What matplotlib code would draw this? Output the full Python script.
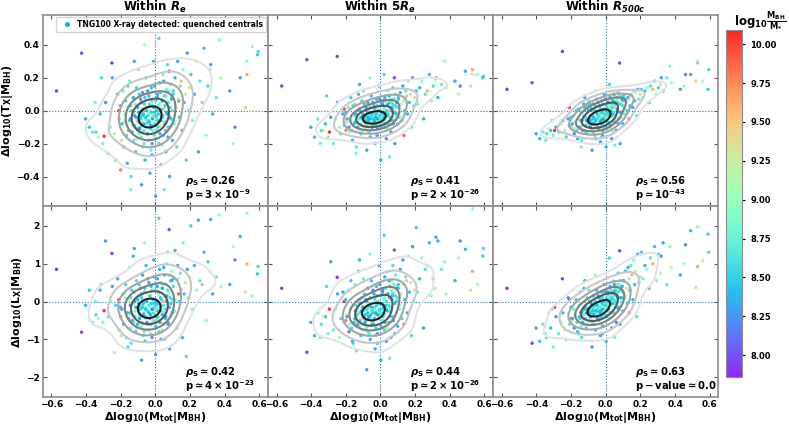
import numpy as np
import matplotlib
matplotlib.use("Agg")
import matplotlib.pyplot as plt
from matplotlib.lines import Line2D

plt.rcParams.update({
    "font.family": "DejaVu Sans", "font.weight": "bold", "axes.labelweight": "bold",
    "axes.titleweight": "bold", "mathtext.fontset": "dejavusans", "mathtext.default": "bf",
})

# shared x: residual of M_tot at fixed M_BH, and colour: log10 M_BH/M_*
dm_tot = [
    -0.57, -0.425, -0.25, 0.08, -0.295, -0.21, 0.135, -0.20, 0.594, 0.53,
    0.56, 0.49, 0.43, 0.37, 0.59, 0.52, 0.32, 0.53, 0.46, 0.45,
    -0.342, -0.318, -0.303, -0.287, -0.272, -0.259, -0.248, -0.236, -0.228, -0.217, -0.209, -0.196,
    -0.193, -0.186, -0.182, -0.175, -0.171, -0.166, -0.162, -0.157, -0.153, -0.148,
    -0.144, -0.139, -0.136, -0.131, -0.127, -0.124, -0.119, -0.116, -0.113, -0.108,
    -0.105, -0.102, -0.098, -0.095, -0.092, -0.201, -0.158, -0.142, -0.121, -0.179,
    -0.089, -0.086, -0.084, -0.081, -0.078, -0.076, -0.073, -0.071, -0.068, -0.065,
    -0.062, -0.059, -0.056, -0.053, -0.051, -0.048, -0.045, -0.043, -0.040, -0.037,
    -0.034, -0.031, -0.029, -0.026, -0.023, -0.021, -0.018, -0.015, -0.012, -0.009,
    -0.007, -0.004, -0.001, 0.002, 0.004, -0.061, -0.079, -0.019,
    0.007, 0.010, 0.013, 0.016, 0.019, 0.022, 0.025, 0.028, 0.031, 0.034,
    0.037, 0.040, 0.044, 0.047, 0.050, 0.054, 0.057, 0.061, 0.064, 0.068,
    0.071, 0.075, 0.079, 0.083, 0.087, 0.091, 0.095, 0.099, 0.021, 0.052,
    0.104, 0.109, 0.114, 0.119, 0.124, 0.129, 0.134, 0.139, 0.145, 0.150,
    0.156, 0.161, 0.167, 0.173, 0.179, 0.185, 0.191, 0.198,
    0.206, 0.215, 0.226, 0.238, 0.249, 0.258, 0.271, 0.282, 0.293, 0.304, 0.316, 0.331, 0.352, 0.379,
    -0.381, -0.362, -0.347, -0.329, -0.402, -0.311,
    -0.148, -0.141, -0.133, -0.126, -0.122, -0.117, -0.111, -0.106, -0.101, -0.097,
    -0.093, -0.090, -0.087, -0.083, -0.080, -0.077, -0.074, -0.070, -0.067, -0.064,
    -0.060, -0.057, -0.054, -0.050, -0.047, -0.044, -0.041, -0.038, -0.035, -0.032,
    -0.028, -0.025, -0.022, -0.019, -0.016, -0.013, -0.010, -0.007, -0.004, -0.001,
    0.003, 0.006, 0.009, 0.012, 0.015, 0.018, 0.023, 0.027, 0.030, 0.033,
    0.036, 0.039, 0.043, 0.046, 0.049, 0.053, 0.056, 0.059, 0.063, 0.066,
    0.070, 0.074, 0.078, 0.082, 0.086, 0.090, 0.094, 0.098, 0.103, 0.108,
]
log_mbh_ms = [
    7.90, 7.95, 7.92, 7.98, 10.05, 10.00, 9.90, 9.80, 8.55, 9.65,
    9.05, 8.35, 8.30, 8.95, 8.50, 9.40, 8.30, 8.95, 8.20, 9.05,
    8.60, 8.45, 8.80, 8.25, 8.70, 8.90, 8.35, 9.10, 8.55, 8.30, 8.65, 9.30,
    8.40, 8.75, 8.20, 8.95, 8.50, 8.60, 8.35, 9.05, 8.45, 8.80,
    8.25, 8.65, 8.55, 9.15, 8.40, 8.70, 8.30, 8.85, 8.50, 8.60,
    9.45, 8.40, 8.75, 8.20, 8.90, 8.45, 8.55, 8.80, 8.35, 9.00,
    8.45, 8.60, 8.30, 8.80, 8.50, 9.10, 8.25, 8.65, 8.40, 8.70,
    8.55, 8.35, 8.90, 8.45, 8.60, 8.20, 9.35, 8.50, 8.75, 8.40,
    8.65, 8.30, 8.85, 8.55, 8.45, 9.00, 8.25, 8.70, 8.60, 8.35,
    8.80, 8.50, 9.20, 8.40, 8.65, 8.95, 8.30, 8.20,
    8.55, 8.75, 8.30, 8.45, 8.90, 8.60, 8.40, 9.05, 8.50, 8.25,
    8.70, 8.35, 8.85, 8.55, 9.50, 8.45, 8.65, 8.20, 8.80, 8.40,
    8.60, 8.50, 9.00, 8.30, 8.70, 8.45, 8.90, 8.35, 8.55, 8.75,
    8.55, 8.80, 8.40, 9.25, 8.60, 8.30, 8.95, 8.50, 8.70, 9.55,
    8.35, 8.85, 8.45, 9.10, 8.60, 8.25, 8.75, 9.40,
    8.50, 8.80, 8.40, 9.00, 8.30, 8.65, 9.60, 8.45, 8.90, 8.55, 9.15, 8.35, 8.70, 9.05,
    8.45, 8.70, 8.80, 9.20, 8.35, 8.60,
    8.50, 8.62, 8.38, 8.78, 8.48, 8.57, 8.33, 8.88, 8.44, 8.69,
    8.52, 8.28, 8.73, 8.58, 8.41, 8.83, 8.47, 8.63, 8.36, 8.71,
    8.53, 8.45, 8.92, 8.39, 8.66, 8.26, 8.55, 8.79, 8.43, 8.61,
    8.34, 8.74, 8.49, 8.58, 8.31, 8.86, 8.46, 8.64, 8.37, 8.70,
    8.52, 8.42, 8.77, 8.29, 8.59, 8.48, 8.81, 8.35, 8.67, 8.44,
    8.56, 8.94, 8.40, 8.62, 8.32, 8.72, 8.51, 8.47, 8.84, 8.38,
    8.60, 8.26, 8.75, 8.45, 8.57, 8.89, 8.36, 8.65, 8.49, 8.79,
]

# T_X residuals in the three apertures
dtx_re = [
    0.12, 0.35, 0.29, 0.24, -0.155, 0.00, 0.06, -0.36, 0.36, 0.22,
    0.39, 0.20, 0.12, 0.43, 0.34, 0.02, 0.28, 0.30, -0.10, -0.20,
    -0.13, -0.02, -0.20, 0.05, -0.26, -0.10, 0.20, -0.14, -0.30, 0.10, -0.05, -0.18,
    -0.08, 0.12, -0.22, -0.02, 0.06, -0.15, -0.32, 0.02, -0.12, 0.18,
    -0.05, -0.40, 0.00, -0.09, 0.08, -0.18, -0.03, 0.04, -0.25, 0.14,
    -0.06, -0.11, 0.25, -0.01, -0.14, 0.03, 0.15, -0.48, 0.30, -0.07,
    -0.04, -0.10, 0.07, -0.16, 0.00, -0.07, 0.11, -0.22, -0.02, -0.12,
    0.04, -0.30, -0.05, 0.20, -0.08, -0.14, 0.02, -0.03, -0.18, 0.09,
    -0.06, -0.38, 0.00, -0.11, 0.14, -0.04, -0.20, 0.03, -0.09, 0.30,
    -0.15, -0.01, -0.07, -0.52, 0.06, 0.40, -0.45, -0.27,
    -0.03, -0.12, 0.10, -0.06, 0.03, -0.20, 0.17, -0.09, 0.00, -0.33,
    0.06, -0.04, 0.22, -0.15, 0.01, 0.09, -0.07, -0.25, 0.13, -0.02,
    0.28, -0.10, 0.05, -0.40, 0.16, -0.05, 0.08, -0.18, 0.44, -0.48,
    0.12, -0.08, 0.20, 0.02, -0.22, 0.30, 0.07, -0.04, 0.15, 0.18,
    -0.12, 0.25, 0.05, 0.10, -0.30, 0.35, 0.00, 0.14,
    0.22, -0.06, 0.10, 0.30, -0.25, 0.18, 0.05, 0.38, -0.15, 0.15, 0.25, -0.02, 0.08, 0.20,
    -0.10, -0.13, 0.05, -0.16, -0.05, 0.20,
    -0.06, 0.03, -0.13, -0.01, 0.07, -0.09, -0.04, -0.17, 0.02, -0.07,
    0.10, -0.11, -0.02, -0.05, 0.05, -0.13, -0.03, 0.01, -0.08, -0.20,
    0.08, -0.04, -0.10, 0.00, -0.06, 0.12, -0.14, -0.02, -0.07, 0.04,
    -0.09, -0.24, -0.01, 0.06, -0.05, -0.12, 0.02, -0.03, 0.15, -0.08,
    -0.17, 0.00, -0.05, 0.08, -0.10, -0.02, 0.04, -0.14, 0.11, -0.06,
    0.01, -0.21, 0.06, -0.03, 0.18, -0.08, 0.03, -0.12, 0.09, -0.01,
    0.05, -0.16, 0.12, -0.04, 0.02, -0.09, 0.07, 0.00, 0.10, -0.06,
]
dtx_5re = [
    0.15, 0.31, 0.33, 0.20, -0.13, 0.01, -0.15, -0.12, 0.21, 0.25,
    0.22, 0.24, 0.18, 0.30, 0.20, 0.15, 0.20, 0.22, 0.15, 0.10,
    -0.12, -0.08, -0.16, -0.04, -0.20, -0.05, 0.05, -0.10, -0.14, -0.02, -0.09, -0.07,
    -0.05, 0.02, -0.10, -0.06, 0.08, -0.12, -0.18, -0.03, -0.08, 0.04,
    -0.02, -0.22, -0.07, -0.04, 0.10, -0.11, 0.00, -0.05, -0.14, 0.06,
    -0.09, -0.03, 0.12, -0.06, -0.10, -0.01, 0.03, -0.26, 0.16, -0.13,
    -0.04, -0.07, 0.02, -0.09, -0.02, -0.05, 0.05, -0.12, -0.06, -0.03,
    -0.01, -0.16, -0.08, 0.09, -0.04, -0.10, -0.03, -0.05, -0.07, 0.03,
    -0.02, -0.20, -0.06, -0.09, 0.07, -0.04, -0.11, 0.00, -0.05, 0.15,
    -0.08, -0.03, -0.06, -0.30, 0.04, 0.20, -0.24, -0.15,
    -0.02, -0.07, 0.06, -0.04, 0.01, -0.10, 0.08, -0.05, -0.01, -0.17,
    0.03, -0.03, 0.12, -0.08, 0.00, 0.05, -0.04, -0.13, 0.07, 0.02,
    0.14, -0.06, 0.03, -0.20, 0.10, -0.02, 0.05, -0.08, 0.22, -0.28,
    0.08, -0.04, 0.11, 0.04, -0.06, 0.15, 0.06, 0.00, 0.12, 0.09,
    -0.02, 0.18, 0.05, 0.10, -0.10, 0.20, 0.03, 0.08,
    0.12, 0.04, 0.14, 0.18, -0.05, 0.10, 0.12, 0.22, 0.06, 0.15, 0.19, 0.08, 0.16, 0.14,
    -0.16, -0.05, -0.20, -0.12, -0.10, 0.09,
    -0.07, -0.03, -0.10, -0.05, 0.01, -0.08, -0.04, -0.12, -0.02, -0.06,
    0.04, -0.07, -0.03, -0.06, 0.00, -0.09, -0.04, -0.01, -0.05, -0.13,
    0.02, -0.05, -0.07, -0.02, -0.04, 0.05, -0.09, -0.03, -0.06, 0.01,
    -0.04, -0.14, -0.02, 0.03, -0.05, -0.07, 0.00, -0.04, 0.07, -0.05,
    -0.10, -0.01, -0.03, 0.04, -0.06, -0.02, 0.02, -0.08, 0.06, -0.03,
    0.00, -0.11, 0.04, -0.02, 0.09, -0.04, 0.02, -0.06, 0.05, 0.00,
    0.04, -0.08, 0.07, -0.01, 0.03, -0.04, 0.05, 0.02, 0.07, -0.01,
]
dtx_r500 = [
    0.13, 0.17, 0.36, 0.29, -0.12, 0.02, -0.05, -0.10, 0.25, 0.29,
    0.18, 0.22, 0.13, 0.27, 0.13, 0.18, 0.20, 0.30, 0.22, 0.15,
    -0.14, -0.12, -0.15, -0.10, -0.13, -0.08, -0.06, -0.12, -0.16, -0.05, -0.09, -0.10,
    -0.08, -0.03, -0.14, -0.07, 0.00, -0.12, -0.17, -0.05, -0.10, 0.01,
    -0.06, -0.18, -0.06, -0.09, 0.04, -0.12, -0.04, -0.05, -0.13, 0.03,
    -0.08, -0.06, 0.06, -0.05, -0.10, -0.04, 0.01, -0.22, 0.08, -0.11,
    -0.06, -0.09, 0.01, -0.12, -0.03, -0.05, 0.04, -0.14, -0.04, -0.07,
    0.00, -0.17, -0.05, 0.07, -0.05, -0.10, -0.01, -0.03, -0.11, 0.03,
    -0.04, -0.19, -0.02, -0.08, 0.06, -0.03, -0.12, 0.00, -0.05, 0.10,
    -0.09, -0.02, -0.04, -0.22, 0.03, 0.12, -0.24, -0.15,
    -0.02, -0.07, 0.05, -0.03, 0.02, -0.10, 0.08, -0.04, 0.00, -0.17,
    0.04, -0.02, 0.10, -0.07, 0.02, 0.05, -0.03, -0.12, 0.07, 0.00,
    0.11, -0.05, 0.04, -0.20, 0.09, -0.01, 0.06, -0.08, 0.16, -0.21,
    0.06, 0.01, 0.07, 0.05, 0.00, 0.08, 0.07, 0.03, 0.10, 0.09,
    0.02, 0.12, 0.06, 0.11, -0.03, 0.13, 0.07, 0.10,
    0.13, 0.08, 0.12, 0.14, 0.05, 0.15, 0.13, 0.18, 0.10, 0.14, 0.16, 0.12, 0.20, 0.17,
    -0.17, -0.13, -0.18, -0.11, -0.14, -0.06,
    -0.10, -0.01, -0.12, -0.03, 0.02, -0.09, -0.06, -0.14, 0.00, -0.08,
    0.04, -0.10, -0.03, -0.07, 0.01, -0.11, -0.05, 0.00, -0.08, -0.15,
    0.03, -0.06, -0.09, -0.02, -0.05, 0.05, -0.11, -0.02, -0.07, 0.02,
    -0.06, -0.16, -0.01, 0.04, -0.05, -0.10, 0.01, -0.03, 0.07, -0.06,
    -0.11, 0.01, -0.03, 0.05, -0.07, -0.01, 0.04, -0.09, 0.07, -0.03,
    0.02, -0.12, 0.06, -0.01, 0.10, -0.05, 0.04, -0.07, 0.08, 0.01,
    0.05, -0.08, 0.09, -0.01, 0.04, -0.04, 0.07, 0.03, 0.09, -0.02,
]

# L_X residuals in the three apertures
dlx_re = [
    0.85, -0.81, 1.27, 1.90, -0.24, 0.05, 0.20, -0.40, 0.93, 0.99,
    0.15, 1.72, 0.45, 2.28, 0.73, 0.25, 2.17, 2.33, 1.10, 1.45,
    -0.35, 0.30, -0.55, 1.60, -0.40, 0.00, 0.40, -1.35, -0.10, 0.60, -0.75, -0.90,
    -0.20, 0.20, -0.60, 0.10, 0.45, -0.95, -0.30, 0.05, -0.45, 0.90,
    -0.10, -1.10, 0.30, -0.35, 1.20, -0.55, 0.00, -0.25, -0.80, 0.55,
    -0.15, -0.60, 0.15, -0.05, -0.40, -0.15, -1.20, -0.70, 1.40, 0.20,
    -0.20, -0.35, 0.35, -0.65, 0.10, -0.10, 0.70, -0.90, -0.05, -0.30,
    0.25, -1.05, -0.15, 0.95, -0.40, -0.55, 0.00, -0.25, -0.75, 0.50,
    -0.10, -0.45, 0.15, -0.60, 0.40, -0.20, -0.95, 0.05, -0.30, 1.10,
    -0.50, -0.05, -0.25, -1.40, 0.30, 1.55, -1.55, -0.20,
    -0.10, -0.45, 0.60, -0.25, 0.20, -0.80, 0.85, -0.15, 0.10, -1.00,
    0.35, -0.35, 0.45, -0.60, 0.00, 0.70, -0.20, -0.40, 1.00, 0.15,
    1.30, -0.55, 0.25, -1.25, 0.55, -0.05, 0.80, -0.30, 2.20, -1.00,
    0.40, -0.25, 1.35, 0.05, -0.70, 0.95, 0.60, 0.00, 0.75, 0.30,
    -0.95, 1.55, 0.20, 0.50, -1.45, 0.85, 0.10, 0.65,
    2.00, -0.20, 0.95, 0.30, 2.15, 0.55, 0.45, 1.30, -0.50, 1.05, 0.80, 0.20, 0.65, 0.40,
    0.30, -0.55, 0.00, -0.45, -0.10, 0.45,
    -0.30, 0.10, -0.50, -0.05, 0.25, -0.40, -0.15, -0.70, 0.05, -0.25,
    0.45, -0.45, -0.10, -0.20, 0.20, -0.55, -0.15, 0.00, -0.35, -0.80,
    0.35, -0.20, -0.45, 0.00, -0.25, 0.60, -0.60, -0.10, -0.30, 0.15,
    -0.35, -0.85, -0.05, 0.30, -0.20, -0.50, 0.05, -0.15, 0.65, -0.35,
    -0.65, 0.00, -0.20, 0.40, -0.40, -0.05, 0.25, -0.55, 0.50, -0.25,
    0.05, -0.75, 0.35, -0.10, 0.90, -0.30, 0.15, -0.45, 0.45, 0.00,
    0.30, -0.60, 0.70, -0.15, 0.10, -0.40, 0.55, 0.05, 0.60, -0.25,
]
dlx_5re = [
    0.35, -1.34, 0.64, 1.36, -0.20, 0.00, -0.60, -0.50, 1.40, 0.80,
    0.45, 1.38, 0.55, 1.05, 1.20, 0.30, 1.70, 2.45, 1.60, 1.15,
    -0.60, -0.40, -0.85, 1.05, -0.75, -0.20, 0.20, -0.95, -0.45, 0.25, -0.55, -0.35,
    -0.40, 0.30, -0.80, -0.20, 0.55, -0.70, -1.05, -0.10, -0.55, 0.45,
    -0.25, -1.30, -0.35, -0.20, 0.80, -0.65, -0.05, -0.30, -0.90, 0.10,
    -0.45, -0.15, 0.60, -0.40, -0.25, 0.05, -1.10, -0.50, 1.10, -0.60,
    -0.35, -0.50, 0.05, -0.70, -0.20, -0.30, 0.35, -0.80, -0.45, -0.15,
    -0.10, -1.00, -0.40, 0.55, -0.25, -0.60, -0.20, -0.30, -0.55, 0.20,
    -0.15, -1.25, -0.35, -0.70, 0.40, -0.25, -0.85, 0.00, -0.45, 0.95,
    -0.35, -0.20, -0.40, -1.55, 0.15, 1.25, -1.80, -1.10,
    -0.20, -0.50, 0.30, -0.30, 0.05, -0.75, 0.65, -0.35, -0.10, -1.05,
    0.20, -0.25, 0.80, -0.55, 0.10, 0.40, -0.15, -0.95, 0.55, 0.15,
    0.95, -0.40, 0.25, -0.85, 0.70, 0.00, 0.40, -0.65, 1.75, -1.50,
    0.35, -0.20, 0.85, 0.20, -0.45, 1.10, 0.45, 0.05, 0.65, 0.55,
    -0.30, 1.20, 0.25, 0.50, -0.90, 1.45, 0.00, 0.30,
    1.95, 0.25, 0.60, 1.15, -0.70, 0.85, 0.95, 1.55, 0.15, 0.60, 0.35, 1.60, 0.85, 0.20,
    -0.90, -0.30, -0.95, -0.40, -0.55, 0.40,
    -0.45, -0.10, -0.60, -0.30, 0.05, -0.50, -0.25, -0.75, -0.15, -0.40,
    0.20, -0.55, -0.20, -0.35, 0.00, -0.65, -0.30, -0.10, -0.40, -0.85,
    0.10, -0.35, -0.50, -0.15, -0.25, 0.30, -0.60, -0.20, -0.45, 0.05,
    -0.30, -0.90, -0.10, 0.15, -0.35, -0.45, -0.05, -0.25, 0.45, -0.30,
    -0.65, -0.05, -0.20, 0.25, -0.40, -0.15, 0.10, -0.55, 0.35, -0.20,
    0.00, -0.70, 0.20, -0.10, 0.55, -0.25, 0.10, -0.40, 0.30, 0.05,
    0.20, -0.50, 0.45, -0.05, 0.15, -0.30, 0.35, 0.10, 0.45, -0.10,
]
dlx_r500 = [
    0.35, -1.10, 0.60, 1.34, -0.15, 0.06, -0.30, -0.45, 1.30, 0.92,
    1.08, 1.87, 0.70, 1.45, 1.78, 0.37, 1.20, 1.97, 1.50, 1.00,
    -0.95, -0.70, -1.20, -0.40, -0.85, -0.55, -0.30, -0.75, -1.00, 0.10, -0.60, -0.50,
    -0.45, -0.20, -0.70, -0.35, 0.05, -0.55, -0.80, -0.10, -0.40, 0.25,
    -0.30, -0.95, -0.25, -0.45, 0.35, -0.60, -0.15, -0.20, -0.70, 0.10,
    -0.35, -0.25, 0.30, -0.30, -0.50, -0.15, -0.85, -0.65, 0.55, -0.40,
    -0.30, -0.40, -0.05, -0.55, -0.20, -0.15, 0.15, -0.60, -0.35, -0.25,
    -0.10, -0.75, -0.30, 0.30, -0.20, -0.45, -0.05, -0.25, -0.50, 0.10,
    -0.15, -0.90, -0.20, -0.40, 0.25, -0.10, -0.65, 0.00, -0.30, 0.45,
    -0.35, -0.10, -0.20, -1.05, 0.10, 0.70, -1.20, -0.85,
    -0.05, -0.25, 0.25, -0.15, 0.10, -0.45, 0.40, -0.10, 0.05, -0.70,
    0.20, -0.05, 0.55, -0.30, 0.15, 0.30, 0.00, -0.55, 0.45, 0.10,
    0.75, -0.15, 0.30, -0.60, 0.55, 0.10, 0.40, -0.25, 1.15, -0.95,
    0.55, 0.10, 0.80, 0.35, -0.05, 0.90, 0.60, 0.30, 0.95, 0.70,
    0.05, 1.10, 0.45, 0.80, -0.40, 1.25, 0.50, 0.65,
    1.30, 0.60, 0.95, 0.85, 0.35, 1.15, 1.00, 1.45, 0.55, 1.25, 0.75, 1.55, 0.45, 0.90,
    -1.05, -0.60, -0.85, -0.30, -0.70, -0.20,
    -0.45, -0.30, -0.55, -0.35, -0.20, -0.45, -0.30, -0.60, -0.20, -0.35,
    0.00, -0.40, -0.20, -0.30, -0.10, -0.50, -0.25, -0.15, -0.35, -0.60,
    0.00, -0.25, -0.35, -0.10, -0.20, 0.15, -0.45, -0.15, -0.30, 0.05,
    -0.25, -0.60, -0.05, 0.10, -0.20, -0.35, 0.00, -0.10, 0.25, -0.20,
    -0.40, 0.05, -0.05, 0.20, -0.20, 0.00, 0.15, -0.30, 0.30, -0.05,
    0.10, -0.40, 0.25, 0.05, 0.45, -0.05, 0.20, -0.15, 0.35, 0.15,
    0.25, -0.20, 0.45, 0.10, 0.30, 0.00, 0.40, 0.25, 0.55, 0.15,
]

titles = [r"Within $\mathbfit{R}_\mathbfit{e}$", r"Within 5$\mathbfit{R}_\mathbfit{e}$",
          r"Within $\mathbfit{R}_\mathbfit{500c}$"]
rho_s = ["0.26", "0.41", "0.56", "0.42", "0.44", "0.63"]
p_text = [r"$p \simeq 3 \times 10^{-9}$", r"$p \simeq 2 \times 10^{-26}$", r"$p \simeq 10^{-43}$",
          r"$p \simeq 4 \times 10^{-23}$", r"$p \simeq 2 \times 10^{-26}$", r"$p - value \simeq 0.0$"]
cbar_ticks = [8.00, 8.25, 8.50, 8.75, 9.00, 9.25, 9.50, 9.75, 10.00]

CMIN, CMAX = 7.86, 10.09
CONTOUR_COLS = ["#e3e3e3", "#c8c8c8", "#a5a5a5", "#808080", "#585858", "#202020"]
MASS_FRAC = [0.80, 0.66, 0.52, 0.38, 0.24, 0.10]


def kde_contours(ax, x, y, xlim, ylim):
    # gaussian kde on a grid, levels chosen to enclose given mass fractions
    n = len(x)
    f = 0.9 * n ** (-1 / 6)
    hx, hy = f * np.std(x), f * np.std(y)
    gx = np.linspace(xlim[0], xlim[1], 160)
    gy = np.linspace(ylim[0], ylim[1], 160)
    X, Y = np.meshgrid(gx, gy)
    Z = np.exp(-0.5 * (((X[..., None] - x) / hx) ** 2 + ((Y[..., None] - y) / hy) ** 2)).sum(-1)
    zs = np.sort(Z.ravel())[::-1]
    cum = np.cumsum(zs) / zs.sum()
    levels = [zs[np.searchsorted(cum, m)] for m in MASS_FRAC]
    ax.contour(X, Y, Z, levels=levels, colors=CONTOUR_COLS, linewidths=1.5, zorder=3)


x = np.array(dm_tot)
c = np.array(log_mbh_ms)
ys = [dtx_re, dtx_5re, dtx_r500, dlx_re, dlx_5re, dlx_r500]
for y in ys:
    assert len(y) == len(x), (len(y), len(x))
assert len(c) == len(x)

fig = plt.figure(figsize=(7.89, 4.25), dpi=100)
lefts = [0.054, 0.3395, 0.625]
bottoms = [0.515, 0.066]
W, H = 0.2855, 0.449
XLIM = (-0.65, 0.65)
YLIMS = [(-0.58, 0.58), (-2.52, 2.52)]

sc = None
for k, y in enumerate(ys):
    row, col = divmod(k, 3)
    ax = fig.add_axes([lefts[col], bottoms[row], W, H])
    y = np.array(y)
    sc = ax.scatter(x, y, c=c, cmap="rainbow", vmin=CMIN, vmax=CMAX, s=6,
                    edgecolors="none", alpha=0.85, zorder=2)
    kde_contours(ax, x, y, XLIM, YLIMS[row])
    ax.axhline(0, color="tab:blue", ls=":", lw=0.8, zorder=1)
    ax.axvline(0, color="tab:blue", ls=":", lw=0.8, zorder=1)
    ax.set_xlim(XLIM)
    ax.set_ylim(YLIMS[row])
    ax.set_xticks([-0.6, -0.4, -0.2, 0.0, 0.2, 0.4, 0.6])
    if row == 0:
        ax.set_yticks([-0.4, -0.2, 0.0, 0.2, 0.4])
        ax.set_title(titles[col], fontsize=8.5, pad=2)
    else:
        ax.set_yticks([-2, -1, 0, 1, 2])
        ax.set_xlabel(r"$\Delta log_{10}(M_{tot}|M_{BH})$", fontsize=8, labelpad=1)
    ax.tick_params(direction="in", top=True, right=True, length=3, width=0.8,
                   labelsize=6.5, color="#555555", pad=2,
                   labelbottom=(row == 1), labelleft=(col == 0))
    for sp in ax.spines.values():
        sp.set_color("#8c8c8c")
        sp.set_linewidth(1.2)
    ax.text(0.63, 0.13, r"$\mathbfit{\rho}_\mathbf{S} \simeq " + rho_s[k] + "$",
            transform=ax.transAxes, fontsize=7.2, va="center", ha="left")
    ax.text(0.63, 0.057, p_text[k], transform=ax.transAxes, fontsize=7.2,
            va="center", ha="left")
    if col == 0:
        lab = r"$\Delta log_{10}(T_X|M_{BH})$" if row == 0 else r"$\Delta log_{10}(L_X|M_{BH})$"
        ax.set_ylabel(lab, fontsize=8, labelpad=1)
    if k == 0:
        handle = Line2D([], [], ls="none", marker="o", ms=2.5,
                        color=plt.get_cmap("rainbow")((8.4 - CMIN) / (CMAX - CMIN)))
        ax.legend([handle], ["TNG100 X-ray detected: quenched centrals"], loc="upper right",
                  handletextpad=0.4, borderpad=0.4, borderaxespad=0.2,
                  prop={"weight": "bold", "size": 5.5})

cax = fig.add_axes([0.920, 0.113, 0.0203, 0.816])
cb = fig.colorbar(sc, cax=cax, ticks=cbar_ticks)
cb.ax.set_yticklabels([f"{t:.2f}" for t in cbar_ticks])
cb.ax.tick_params(labelsize=6, length=2.5, width=0.8)
cb.outline.set_edgecolor("#8c8c8c")
fig.text(0.963, 0.952, r"$log_{10}\frac{M_{BH}}{M_{*}}$", fontsize=8.5, ha="center", va="center")

fig.savefig("out.png", dpi=100)
